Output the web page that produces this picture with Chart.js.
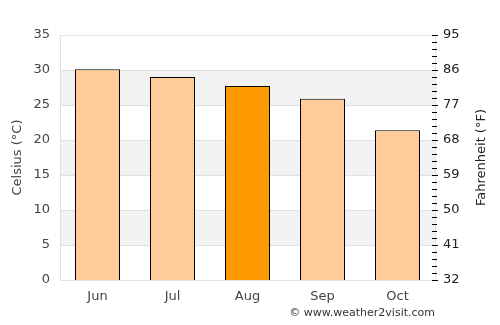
<!DOCTYPE html>
<html><head><meta charset="utf-8">
<script src="https://cdn.jsdelivr.net/npm/chart.js@4"></script>
<style>html,body{margin:0;padding:0;background:#fff}#w{width:500px;height:325px;position:relative}</style>
</head><body><div id="w"><canvas id="c" width="500" height="325"></canvas></div>
<script>
const months = ["Jun","Jul","Aug","Sep","Oct"];
const tempC = [30.1, 29.0, 27.7, 25.9, 21.4];
const barColors = ["#ffcc99","#ffcc99","#ff9900","#ffcc99","#ffcc99"];
const celsiusTicks = [0,5,10,15,20,25,30,35];
const fahrenheitLabels = [32,41,50,59,68,77,86,95];
const bands = [[5,10],[15,20],[25,30]];
const credit = "© www.weather2visit.com";
const leftTitle = "Celsius (°C)";
const rightTitle = "Fahrenheit (°F)";

const FONT = "'DejaVu Sans', sans-serif";

const bgPlugin = {
  id: 'bands',
  beforeDatasetsDraw(chart) {
    const {ctx, chartArea, scales} = chart;
    ctx.save();
    ctx.fillStyle = '#f2f2f2';
    bands.forEach(([a,b]) => {
      const y1 = scales.y.getPixelForValue(b), y2 = scales.y.getPixelForValue(a);
      ctx.fillRect(chartArea.left, y1, chartArea.right - chartArea.left, y2 - y1);
    });
    ctx.strokeStyle = '#e0e0e0'; ctx.lineWidth = 1;
    celsiusTicks.forEach(v => {
      const y = Math.round(scales.y.getPixelForValue(v)) + 0.5;
      ctx.beginPath(); ctx.moveTo(chartArea.left, y); ctx.lineTo(chartArea.right, y); ctx.stroke();
    });
    ctx.beginPath();
    ctx.moveTo(chartArea.left + 0.5, chartArea.top); ctx.lineTo(chartArea.left + 0.5, chartArea.bottom);
    ctx.moveTo(chartArea.right + 0.5, chartArea.top); ctx.lineTo(chartArea.right + 0.5, chartArea.bottom);
    ctx.stroke();
    ctx.restore();
  },
  afterDraw(chart) {
    const {ctx, scales, chartArea} = chart;
    ctx.save();
    ctx.strokeStyle = '#000'; ctx.lineWidth = 1;
    scales.y1.ticks.forEach((t, i) => {
      const y = Math.round(scales.y1.getPixelForValue(t.value)) + 0.5;
      const major = i % 5 === 0;
      ctx.beginPath();
      ctx.moveTo(chartArea.right - 3, y);
      ctx.lineTo(chartArea.right + (major ? 3 : 2), y);
      ctx.stroke();
    });
    ctx.fillStyle = '#333';
    ctx.font = "11px " + FONT;
    ctx.textAlign = 'right'; ctx.textBaseline = 'middle';
    ctx.fillText(credit, chartArea.right, 313);
    // axis titles, both reading bottom-to-top
    const midY = (chartArea.top + chartArea.bottom) / 2;
    ctx.font = "13px " + FONT;
    ctx.textAlign = 'center'; ctx.textBaseline = 'middle';
    ctx.save();
    ctx.translate(18, midY); ctx.rotate(-Math.PI / 2);
    ctx.fillStyle = '#444'; ctx.fillText(leftTitle, 0, 0);
    ctx.restore();
    ctx.save();
    ctx.translate(482, midY); ctx.rotate(-Math.PI / 2);
    ctx.fillStyle = '#222'; ctx.fillText(rightTitle, 0, 0);
    ctx.restore();
    ctx.restore();
  }
};

new Chart(document.getElementById('c'), {
  type: 'bar',
  data: {
    labels: months,
    datasets: [{
      data: tempC,
      backgroundColor: barColors,
      borderColor: '#000',
      borderWidth: 1,
      categoryPercentage: 0.6,
      barPercentage: 1.0
    }]
  },
  options: {
    responsive: false,
    animation: false,
    devicePixelRatio: 1,
    layout: { padding: { top: 35, left: 0, right: 0, bottom: 0 } },
    plugins: { legend: { display: false }, tooltip: { enabled: false } },
    scales: {
      x: {
        grid: { display: false, drawTicks: false },
        border: { display: false },
        ticks: { color: '#444', font: { family: FONT, size: 13 }, padding: 9 },
        afterFit(s) { s.height = 45; }
      },
      y: {
        position: 'left',
        min: 0, max: 35,
        afterBuildTicks(s) { s.ticks = celsiusTicks.map(v => ({ value: v })); },
        grid: { display: false, drawTicks: false },
        border: { display: false },
        ticks: { color: '#444', font: { family: FONT, size: 13 }, padding: 10 },
        afterFit(s) { s.width = 60; }
      },
      y1: {
        position: 'right',
        min: 32, max: 95,
        afterBuildTicks(s) {
          const t = [];
          for (let i = 0; i <= 35; i++) t.push({ value: 32 + i * 1.8 });
          s.ticks = t;
        },
        grid: { display: false, drawTicks: false },
        border: { display: false },
        ticks: {
          color: '#222', font: { family: FONT, size: 13 }, padding: 8, autoSkip: false,
          callback(v, i) { return i % 5 === 0 ? String(fahrenheitLabels[i / 5]) : ''; }
        },
        afterFit(s) { s.width = 65; }
      }
    }
  },
  plugins: [bgPlugin]
});
</script></body></html>
